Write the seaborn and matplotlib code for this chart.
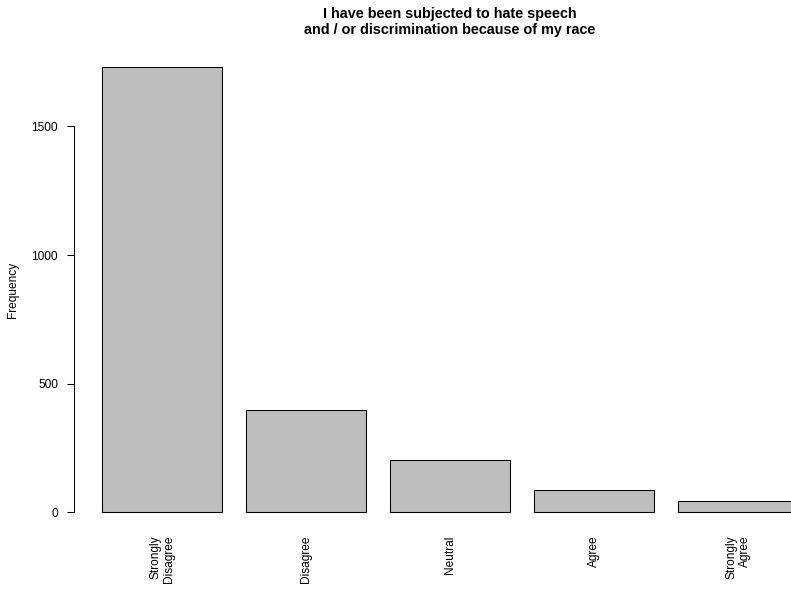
import matplotlib
matplotlib.use('Agg')
import matplotlib.pyplot as plt
import seaborn as sns
import pandas as pd

# Responses and their counts
categories = ['Strongly\nDisagree', 'Disagree', 'Neutral', 'Agree', 'Strongly\nAgree']
counts = [1732, 397, 204, 87, 43]
y_ticks = [0, 500, 1000, 1500]

df = pd.DataFrame({'response': categories, 'count': counts})

sns.set_style('white', {'text.color': 'black', 'axes.labelcolor': 'black',
                        'xtick.color': 'black', 'ytick.color': 'black',
                        'axes.edgecolor': 'black'})
plt.rcParams['font.family'] = ['Liberation Sans', 'DejaVu Sans']

W, H = 791, 591
fig = plt.figure(figsize=(W / 100, H / 100), dpi=100)
# plot region in pixels: x 74..826, y 49..530 (runs past the right edge like the original)
ax = fig.add_axes([74 / W, 1 - 530 / H, 752 / W, (530 - 49) / H])

sns.barplot(data=df, x='response', y='count', color='#BEBEBE', saturation=1,
            edgecolor='black', linewidth=0.75, width=1 / 1.2, ax=ax)

ax.set_xlim(-0.611, 4.611)
ax.set_ylim(-69.3, 1801.3)

for s in ['top', 'right', 'bottom']:
    ax.spines[s].set_visible(False)
ax.spines['left'].set_bounds(0, 1500)
ax.spines['left'].set_linewidth(0.75)

ax.set_yticks(y_ticks)
ax.set_yticklabels([str(v) for v in y_ticks], fontsize=8.6)
ax.tick_params(axis='y', length=5, width=0.75, pad=6.5, left=True, colors='black')
ax.tick_params(axis='x', length=0, pad=4, colors='black')
for lab in ax.get_xticklabels():
    lab.set_rotation(90)
    lab.set_fontsize(8.6)
    lab.set_va('top')
    lab.set_ha('center')
    lab.set_multialignment('right')

ax.set_xlabel('')
ax.set_ylabel('Frequency', fontsize=8.6, color='black')
ax.yaxis.set_label_coords((19 - 74) / 752, 0.5)

fig.text(450 / W, 1 - 22 / H,
         'I have been subjected to hate speech\nand / or discrimination because of my race',
         ha='center', va='center', fontsize=10.4, fontweight='bold', linespacing=1.2,
         color='black')

fig.savefig('out.png', dpi=100)
